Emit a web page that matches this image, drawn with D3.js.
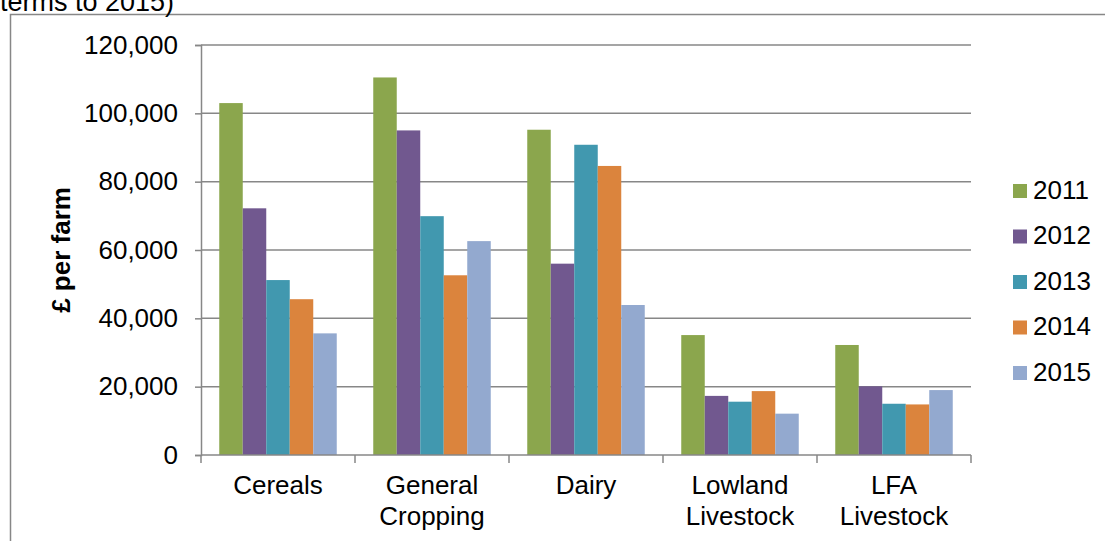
<!DOCTYPE html>
<html>
<head>
<meta charset="utf-8">
<script src="https://cdn.jsdelivr.net/npm/d3@7"></script>
<style>
  html, body { margin: 0; padding: 0; background: #fff; }
  svg { display: block; font-family: "Liberation Sans", Arial, sans-serif; }
</style>
</head>
<body>
<svg id="chart" width="1105" height="541"></svg>
<script>
// Farm business income by farm type, £ per farm
const categories = [["Cereals"], ["General", "Cropping"], ["Dairy"], ["Lowland", "Livestock"], ["LFA", "Livestock"]];
const years = ["2011", "2012", "2013", "2014", "2015"];
const v2011 = [103000, 110500, 95200, 35100, 32200];
const v2012 = [72200, 95000, 56000, 17300, 20100];
const v2013 = [51200, 69900, 90800, 15600, 15000];
const v2014 = [45600, 52600, 84600, 18700, 14800];
const v2015 = [35600, 62600, 43900, 12100, 19000];
const yTicks = [0, 20000, 40000, 60000, 80000, 100000, 120000];
const colors = ["#8BA64D", "#71588F", "#4198AF", "#DB843D", "#93A9CF"];

const seriesValues = [v2011, v2012, v2013, v2014, v2015];
const svg = d3.select("#chart");

const plot = { left: 201, right: 971, top: 45, bottom: 455 };
const catKeys = categories.map(c => c.join(" "));
const fontSize = 26;

const x = d3.scaleBand().domain(catKeys).range([plot.left, plot.right]).padding(0);
const xInner = d3.scaleBand().domain(years)
  .range([18.25, x.bandwidth() - 18.25]).padding(0);
const y = d3.scaleLinear().domain([0, 120000]).range([plot.bottom, plot.top]);

const gridColor = "#878787";

// outer chart frame
svg.append("rect")
  .attr("x", 10.5).attr("y", 14.5)
  .attr("width", 1120).attr("height", 560)
  .attr("fill", "none").attr("stroke", gridColor).attr("stroke-width", 1.5);

// caption text running above the frame
svg.append("text")
  .attr("x", 0).attr("y", 11)
  .attr("font-size", 27)
  .attr("fill", "#000")
  .text("terms to 2015)");

// horizontal gridlines
svg.append("g").selectAll("line")
  .data(yTicks.filter(d => d > 0))
  .join("line")
  .attr("x1", plot.left).attr("x2", plot.right)
  .attr("y1", d => y(d)).attr("y2", d => y(d))
  .attr("stroke", gridColor).attr("stroke-width", 1.5);

// bars
const barGroups = svg.append("g").selectAll("g")
  .data(years)
  .join("g")
  .attr("fill", (d, i) => colors[i]);

barGroups.selectAll("rect")
  .data((yr, i) => seriesValues[i].map((v, j) => ({ cat: catKeys[j], yr, v })))
  .join("rect")
  .attr("x", d => x(d.cat) + xInner(d.yr))
  .attr("width", xInner.bandwidth())
  .attr("y", d => y(d.v))
  .attr("height", d => y(0) - y(d.v));

// y axis
const yAxis = d3.axisLeft(y)
  .tickValues(yTicks)
  .tickSize(6)
  .tickPadding(17)
  .tickFormat(d3.format(","));

const yg = svg.append("g")
  .attr("transform", `translate(${plot.left},0)`)
  .call(yAxis);
yg.select(".domain").attr("stroke", gridColor).attr("stroke-width", 1.5);
yg.selectAll(".tick line").attr("stroke", gridColor).attr("stroke-width", 1.5);
yg.selectAll(".tick text")
  .attr("font-size", fontSize)
  .attr("fill", "#000")
  .attr("font-family", "Liberation Sans, Arial, sans-serif");

// x axis: ticks at category boundaries
const boundaries = catKeys.map(c => x(c)).concat([plot.right]);
const xg = svg.append("g");
xg.append("line")
  .attr("x1", plot.left).attr("x2", plot.right)
  .attr("y1", plot.bottom).attr("y2", plot.bottom)
  .attr("stroke", gridColor).attr("stroke-width", 1.5);
xg.selectAll("line.tk")
  .data(boundaries)
  .join("line")
  .attr("class", "tk")
  .attr("x1", d => d).attr("x2", d => d)
  .attr("y1", plot.bottom).attr("y2", plot.bottom + 8)
  .attr("stroke", gridColor).attr("stroke-width", 1.5);

// category labels
const labels = svg.append("g").selectAll("text")
  .data(categories)
  .join("text")
  .attr("x", (d, i) => x(catKeys[i]) + x.bandwidth() / 2)
  .attr("y", 494)
  .attr("text-anchor", "middle")
  .attr("font-size", fontSize)
  .attr("fill", "#000");
labels.selectAll("tspan")
  .data(d => d)
  .join("tspan")
  .attr("x", function () { return d3.select(this.parentNode).attr("x"); })
  .attr("dy", (d, i) => i === 0 ? 0 : 31)
  .text(d => d);

// y axis title
svg.append("text")
  .attr("transform", "translate(70,250) rotate(-90)")
  .attr("text-anchor", "middle")
  .attr("font-size", fontSize)
  .attr("font-weight", "bold")
  .attr("fill", "#000")
  .text("£ per farm");

// legend
const legend = svg.append("g").selectAll("g")
  .data(years)
  .join("g")
  .attr("transform", (d, i) => `translate(1013,${184 + i * 45.5})`);
legend.append("rect")
  .attr("width", 14).attr("height", 14)
  .attr("fill", (d, i) => colors[i]);
legend.append("text")
  .attr("x", 20).attr("y", 14.5)
  .attr("font-size", fontSize)
  .attr("fill", "#000")
  .text(d => d);
</script>
</body>
</html>
